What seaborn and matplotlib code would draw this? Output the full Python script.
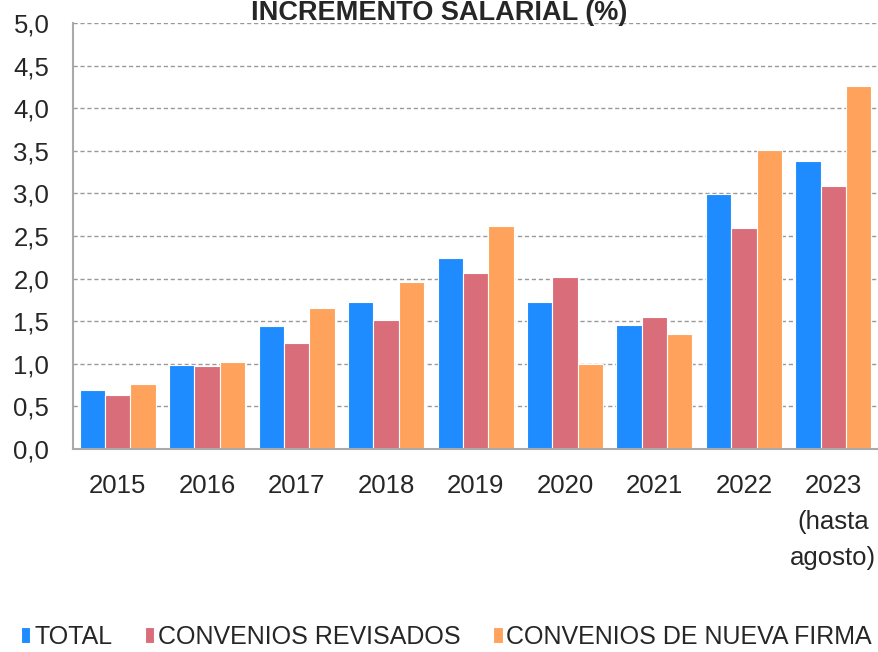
import pandas as pd
import seaborn as sns
import matplotlib.pyplot as plt
from matplotlib.ticker import MultipleLocator, FixedLocator, FuncFormatter

years = ["2015", "2016", "2017", "2018", "2019", "2020", "2021", "2022", "2023\n(hasta\nagosto)"]
total = [0.69, 0.99, 1.44, 1.72, 2.24, 1.73, 1.45, 2.99, 3.38]
revisados = [0.64, 0.97, 1.24, 1.51, 2.07, 2.02, 1.55, 2.60, 3.09]
nueva_firma = [0.76, 1.02, 1.65, 1.96, 2.62, 1.00, 1.35, 3.51, 4.26]
series = ["TOTAL", "CONVENIOS REVISADOS", "CONVENIOS DE NUEVA FIRMA"]
colors = ["#1E8CFF", "#DA6D7A", "#FFA35C"]

df = pd.DataFrame({
    "year": years * 3,
    "serie": [series[0]] * 9 + [series[1]] * 9 + [series[2]] * 9,
    "value": total + revisados + nueva_firma,
})

sns.set_style("white")
plt.rcParams["font.family"] = ["Liberation Sans", "DejaVu Sans"]

fig = plt.figure(figsize=(8.79, 6.52), dpi=100)
ax = fig.add_axes([0.083, 0.3113, 0.916, 0.6534])

sns.barplot(data=df, x="year", y="value", hue="serie", palette=colors,
            width=0.85, gap=0, edgecolor="white", linewidth=0.8,
            saturation=1, ax=ax, legend=True)

ax.set_ylim(0, 5)
ax.set_xlim(-0.5, 8.5)
ax.yaxis.set_major_locator(MultipleLocator(0.5))
ax.yaxis.set_major_formatter(FuncFormatter(lambda v, p: f"{v:.1f}".replace(".", ",")))
ax.grid(axis="y", linestyle=(0, (3, 2)), color="#999999", linewidth=1)
ax.set_axisbelow(True)

ax.xaxis.set_minor_locator(FixedLocator([i + 0.5 for i in range(8)]))
ax.tick_params(axis="x", which="major", length=0, pad=18, labelsize=18.5)
ax.tick_params(axis="x", which="minor", direction="in", length=8, color="#888888")
ax.tick_params(axis="y", which="major", direction="in", length=5, color="#888888",
               labelsize=18.5, pad=17)
for lbl in ax.get_xticklabels():
    lbl.set_linespacing(1.62)
ax.set_xlabel("")
ax.set_ylabel("")

for side in ["top", "right"]:
    ax.spines[side].set_visible(False)
for side in ["left", "bottom"]:
    ax.spines[side].set_color("#aaaaaa")
    ax.spines[side].set_linewidth(1.5)

fig.text(0.5, 1.0, "INCREMENTO SALARIAL (%)", ha="center", va="top",
         fontsize=19.5, fontweight="bold")

handles, labels = ax.get_legend_handles_labels()
ax.legend_.remove()
fig.legend(handles, labels, loc="center", bbox_to_anchor=(0.508, 0.023), ncol=3,
           frameon=False, fontsize=18, handlelength=0.38, handleheight=0.6,
           handletextpad=0.15, columnspacing=1.3)

fig.savefig("out.png", dpi=100)
